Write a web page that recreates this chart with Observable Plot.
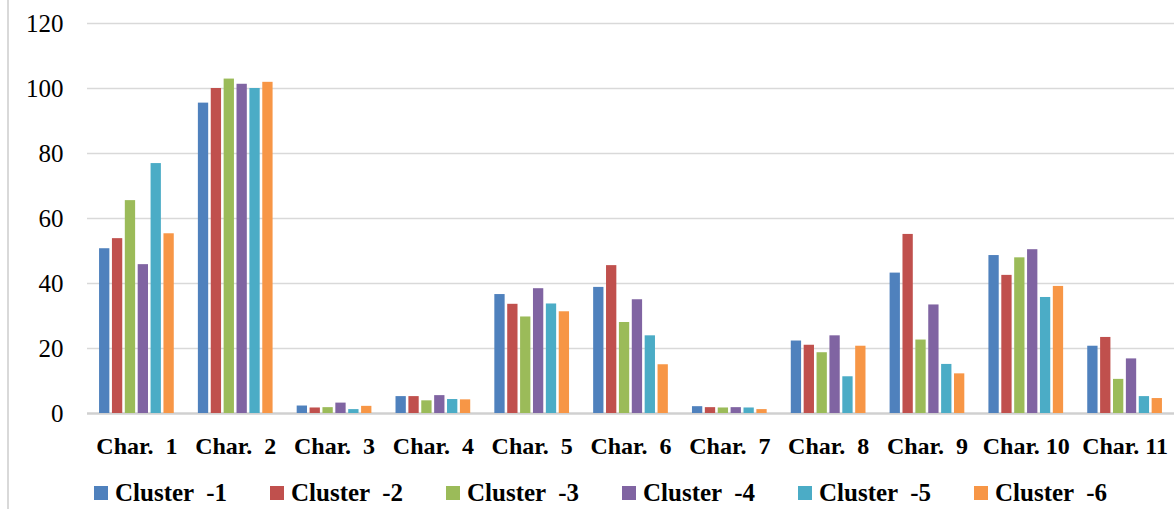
<!DOCTYPE html>
<html>
<head>
<meta charset="utf-8">
<script src="https://cdn.jsdelivr.net/npm/d3@7"></script>
<script src="https://cdn.jsdelivr.net/npm/@observablehq/plot@0.6"></script>
<style>
  html, body { margin: 0; padding: 0; background: #fff; }
  #wrap { position: relative; width: 1174px; height: 509px; overflow: hidden; }
  #border { position: absolute; left: 7px; top: 0; width: 2px; height: 509px; background: #d9d9d9; }
  #grid, #chart { position: absolute; left: 0; top: 0; }
  #legend { position: absolute; left: 94px; top: 479px; display: flex; font-family: "Liberation Serif", serif; font-weight: bold; font-size: 25px; color: #000; }
  .item { width: 176px; display: flex; align-items: center; white-space: pre; }
  .sw { width: 14px; height: 14px; margin-right: 7px; flex: none; }
</style>
</head>
<body>
<div id="wrap">
  <div id="border"></div>
  <div id="grid"></div>
  <div id="chart"></div>
  <div id="legend"></div>
</div>
<script>
const chars = ["Char.  1","Char.  2","Char.  3","Char.  4","Char.  5","Char.  6","Char.  7","Char.  8","Char.  9","Char. 10","Char. 11"];
const clusters = ["Cluster  -1","Cluster  -2","Cluster  -3","Cluster  -4","Cluster  -5","Cluster  -6"];
const cluster1 = [50.7, 95.5, 2.3, 5.2, 36.6, 38.8, 2.1, 22.3, 43.2, 48.6, 20.7];
const cluster2 = [53.8, 100.0, 1.7, 5.2, 33.6, 45.5, 1.8, 21.0, 55.1, 42.5, 23.4];
const cluster3 = [65.5, 102.9, 1.8, 3.9, 29.7, 28.0, 1.7, 18.7, 22.6, 47.9, 10.5];
const cluster4 = [45.8, 101.3, 3.2, 5.5, 38.4, 35.0, 1.8, 23.9, 33.4, 50.4, 16.8];
const cluster5 = [76.9, 100.0, 1.2, 4.3, 33.7, 23.9, 1.7, 11.3, 15.1, 35.7, 5.2];
const cluster6 = [55.3, 101.9, 2.2, 4.2, 31.3, 15.0, 1.2, 20.7, 12.2, 39.1, 4.6];
const yTicks = [0, 20, 40, 60, 80, 100, 120];
const colors = ["#4F81BD","#C0504D","#9BBB59","#8064A2","#4BACC6","#F79646"];

const series = [cluster1, cluster2, cluster3, cluster4, cluster5, cluster6];
const data = chars.flatMap((c, i) => clusters.map((k, j) => ({char: c, cluster: k, value: series[j][i]})));

const common = {
  width: 1174,
  height: 478,
  marginLeft: 87,
  marginRight: 0,
  marginTop: 23,
  marginBottom: 65,
  style: {fontFamily: "Liberation Serif, serif", fontSize: "22px", color: "#000", background: "transparent"},
  y: {domain: [0, 120], axis: null}
};

const grid = Plot.plot({
  ...common,
  x: {domain: [0, 1], axis: null},
  marks: [
    Plot.ruleY(yTicks.filter(d => d > 0), {stroke: "#d9d9d9", strokeWidth: 1.5}),
    Plot.ruleY([0], {stroke: "#d0d0d0", strokeWidth: 2.5}),
    Plot.axisY(yTicks, {anchor: "left", tickSize: 0, tickPadding: 24, label: null, fontSize: 25})
  ]
});
document.getElementById("grid").appendChild(grid);

const chart = Plot.plot({
  ...common,
  fx: {domain: chars, paddingInner: 0.244, paddingOuter: 0.122, round: false, label: null, axis: null},
  x: {domain: clusters, paddingInner: 0.2, paddingOuter: 0, round: false, axis: null},
  color: {domain: clusters, range: colors},
  marks: [
    Plot.barY(data, {fx: "char", x: "cluster", y: "value", fill: "cluster"}),
    Plot.axisFx({anchor: "bottom", tickSize: 0, tickPadding: 23, label: null, fontSize: 24, fontWeight: "bold"})
  ]
});
chart.querySelectorAll("text").forEach(t => t.style.whiteSpace = "pre");
document.getElementById("chart").appendChild(chart);

const legend = document.getElementById("legend");
clusters.forEach((k, j) => {
  const it = document.createElement("div");
  it.className = "item";
  const sw = document.createElement("span");
  sw.className = "sw";
  sw.style.background = colors[j];
  it.appendChild(sw);
  it.appendChild(document.createTextNode(k));
  legend.appendChild(it);
});
</script>
</body>
</html>
